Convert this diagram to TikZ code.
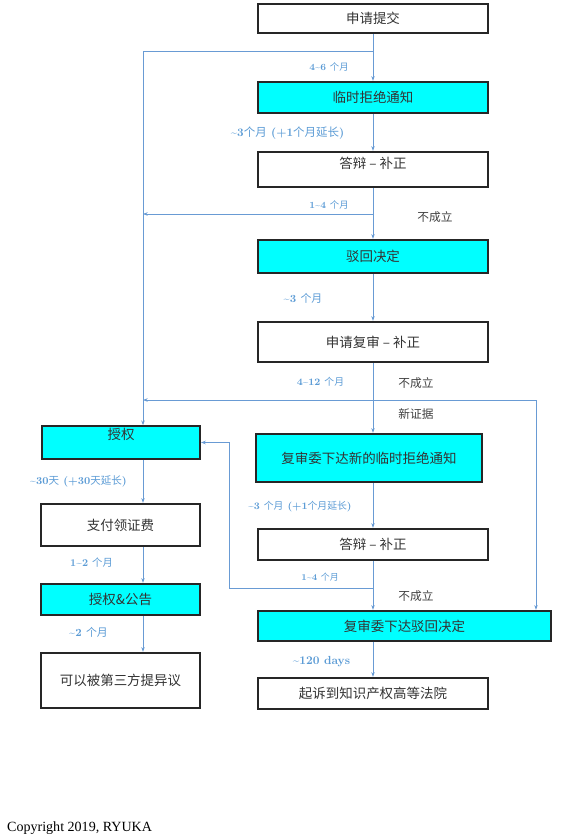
\documentclass[tikz,border=0pt]{standalone}
\usepackage{fontspec}
\usetikzlibrary{arrows.meta}
\newfontfamily\cjk{Noto Sans CJK SC}
\newfontfamily\tnr{Liberation Serif}
\newcommand{\zh}[1]{{\cjk\mdseries #1}}
\newcommand{\til}{\textasciitilde}
\definecolor{timeblue}{RGB}{91,155,213}
\definecolor{lineblue}{RGB}{105,155,212}
\definecolor{aqua}{RGB}{0,255,255}

\begin{document}
\begin{tikzpicture}[x=0.03cm,y=-0.03cm,>={Stealth[length=4pt,width=3pt]}]
    \tikzset{
        box/.style={
            draw=black!85,line width=1.8pt,inner sep=1pt,
            font=\cjk\fontsize{11.5}{14}\selectfont,text=black!80
        },
        pale/.style={box,fill=white},
        hot/.style={box,fill=aqua},
        dur/.style={font=\fontsize{8}{9}\selectfont\bfseries,text=timeblue},
        note/.style={font=\cjk\fontsize{10}{12}\selectfont,text=black!75},
        link/.style={draw=lineblue,line width=0.6pt}
    }
    \useasboundingbox (0,0) rectangle (567,837);

    % main column
    \node[pale,minimum width=6.9cm,minimum height=0.88cm] (sub) at (373,18.5) {申请提交};
    \node[hot,minimum width=6.9cm,minimum height=0.94cm] (tmp) at (373,97.5) {临时拒绝通知};
    \node[pale,minimum width=6.9cm,minimum height=1.06cm,text height=10pt,text depth=12.4pt]
        (ans) at (373,169.5) {答辩 – 补正};
    \node[hot,minimum width=6.9cm,minimum height=1cm] (rej) at (373,256.5) {驳回决定};
    \node[pale,minimum width=6.9cm,minimum height=1.21cm] (req) at (373,342) {申请复审 – 补正};
    \node[hot,minimum width=6.78cm,minimum height=1.45cm] (nrej) at (369,458)
        {复审委下达新的临时拒绝通知};
    \node[pale,minimum width=6.9cm,minimum height=0.94cm] (ans2) at (373,544.5) {答辩 – 补正};
    \node[hot,minimum width=8.79cm,minimum height=0.91cm] (fin) at (404.5,626) {复审委下达驳回决定};
    \node[pale,minimum width=6.9cm,minimum height=0.94cm] (court) at (373,693.5)
        {起诉到知识产权高等法院};

    % left column
    \node[hot,minimum width=4.74cm,minimum height=0.94cm,text height=10pt,text depth=15.8pt]
        (grant) at (121,442.5) {授权};
    \node[pale,minimum width=4.77cm,minimum height=1.27cm] (fee) at (120.5,525) {支付领证费};
    \node[hot,minimum width=4.77cm,minimum height=0.94cm] (pub) at (120.5,599.5) {授权\&公告};
    \node[pale,minimum width=4.77cm,minimum height=1.66cm] (opp) at (120.5,680.5)
        {可以被第三方提异议};

    \coordinate (lft) at (143,51);
    \coordinate (bk1) at (373,214);
    \coordinate (bk2) at (536,400);
    \coordinate (bk3) at (229,588);

    % connectors
    \draw[link,->] (sub.south) -- (tmp.north);
    \draw[link] (sub.south |- lft) -- (lft);
    \draw[link,->] (lft) -- (lft |- grant.north);
    \draw[link,->] (tmp.south) -- (ans.north);
    \draw[link,->] (ans.south) -- (rej.north);
    \draw[link,->] (bk1) -- (bk1 -| lft);
    \draw[link,->] (rej.south) -- (req.north);
    \draw[link,->] (req.south) -- (req.south |- nrej.north);
    \draw[link,->] (bk2) -- (bk2 -| lft);
    \draw[link,->] (bk2) -- (bk2 |- fin.north);
    \draw[link,->] (ans2.south |- nrej.south) -- (ans2.north);
    \draw[link,->] (ans2.south) -- (ans2.south |- fin.north);
    \draw[link,->] (ans2.south |- bk3) -- (bk3) |- (grant.east);
    \draw[link,->] (ans2.south |- fin.south) -- (court.north);
    \draw[link,->] (grant.south -| lft) -- (fee.north -| lft);
    \draw[link,->] (fee.south -| lft) -- (pub.north -| lft);
    \draw[link,->] (pub.south -| lft) -- (opp.north -| lft);

    % durations
    \node[dur] (d1) at (329,67) {4\til6 \zh{个月}};
    \node[dur,font=\fontsize{9.8}{11}\selectfont\bfseries] (d2) at (287.5,133)
        {\til3\zh{个月} (+1\zh{个月延长})};
    \node[dur] (d3) at (329,205) {1\til4 \zh{个月}};
    \node[dur,font=\fontsize{9.3}{11}\selectfont\bfseries] (d4) at (303,298) {\til3 \zh{个月}};
    \node[dur,font=\fontsize{8.4}{10}\selectfont\bfseries] (d5) at (320.5,382) {4\til12 \zh{个月}};
    \node[dur,font=\fontsize{8.4}{10}\selectfont\bfseries] (d6) at (300,507)
        {\til3 \zh{个月} (+1\zh{个月延长})};
    \node[dur,font=\fontsize{7.6}{9}\selectfont\bfseries] (d7) at (320,577) {1\til4 \zh{个月}};
    \node[dur,font=\fontsize{10}{12}\selectfont\bfseries] (d8) at (321.5,662) {\til120 days};
    \node[dur,font=\fontsize{9}{10}\selectfont\bfseries] (d9) at (78.5,481)
        {\til30\zh{天} (+30\zh{天延长})};
    \node[dur,font=\fontsize{8.8}{10}\selectfont\bfseries] (d10) at (91.5,563) {1\til2 \zh{个月}};
    \node[dur,font=\fontsize{9.3}{11}\selectfont\bfseries] (d11) at (88.5,632) {\til2 \zh{个月}};

    % notes
    \node[note] (n1) at (435,217) {不成立};
    \node[note] (n2) at (416,383) {不成立};
    \node[note] (n3) at (416,414) {新证据};
    \node[note] (n4) at (416,596) {不成立};

    \node[anchor=west,font=\tnr\fontsize{12}{14}\selectfont] (copy) at (3,828)
        {Copyright 2019, RYUKA};
\end{tikzpicture}
\end{document}
